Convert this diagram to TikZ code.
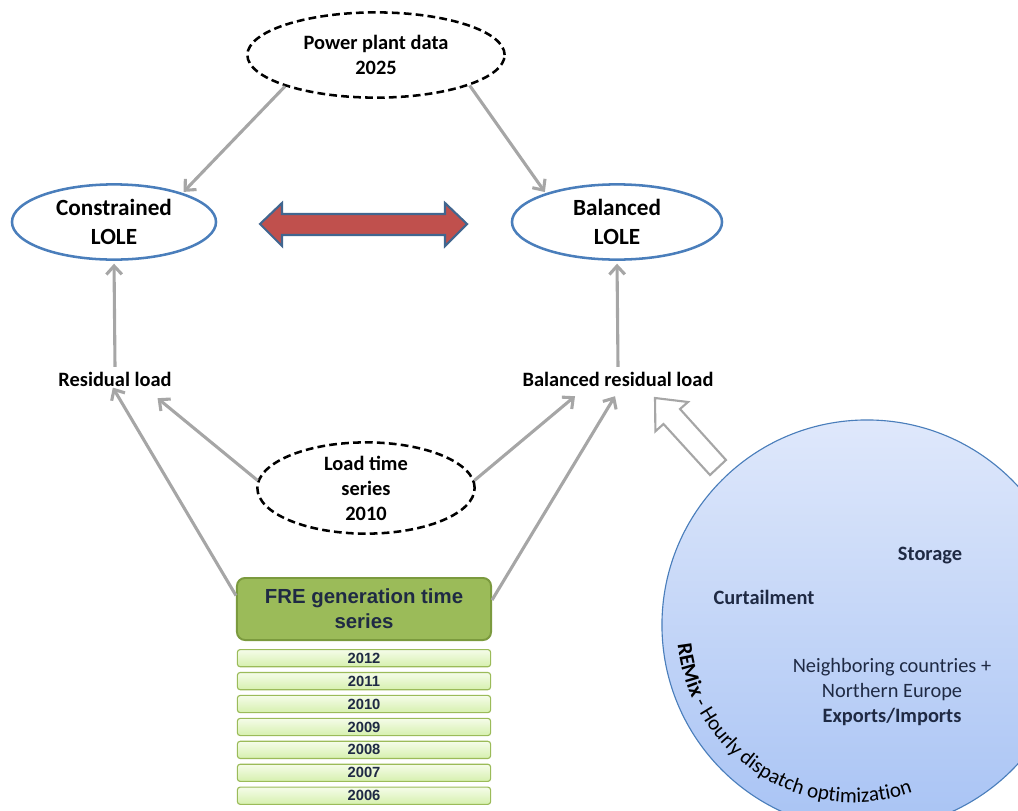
\documentclass[tikz,border=0pt]{standalone}
\usepackage{fontspec}
\setmainfont{Carlito}
\newfontfamily\arialfont{Liberation Sans}
\usetikzlibrary{arrows.meta,positioning,shapes.geometric,decorations.text,calc}
\definecolor{loleblue}{HTML}{4A7EBB}
\definecolor{feedgray}{HTML}{A6A6A6}
\definecolor{fregreen}{HTML}{9BBB59}
\definecolor{freborder}{HTML}{7B9A3E}
\definecolor{navytext}{HTML}{1F2A44}
\definecolor{cmpred}{HTML}{C0504D}
\definecolor{cmpblue}{HTML}{41668F}
\definecolor{remixtop}{HTML}{DFE8FB}
\definecolor{remixbot}{HTML}{A8C3F4}
\definecolor{bartop}{HTML}{F5FCE9}
\definecolor{barbot}{HTML}{D6F0AE}

\newcommand\remixfont{\fontsize{14.5}{17.8}\selectfont}
\newcommand\arcfont{\fontsize{15}{18}\selectfont}

\begin{document}
\begin{tikzpicture}[x=0.025cm, y=-0.025cm,
    every node/.style={align=center, font=\bfseries\fontsize{14.5}{17.8}\selectfont},
    datanode/.style={ellipse, draw, fill=white, dash pattern=on 5.5pt off 3pt, line width=1.8pt, inner sep=0pt},
    lolenode/.style={ellipse, draw=loleblue, line width=1.8pt, inner sep=0pt, font=\bfseries\fontsize{16.5}{20.6}\selectfont},
    feed/.style={draw=feedgray, line width=2.2pt, -{Straight Barb[length=6pt,width=11pt]}},
    frebox/.style={draw=freborder, line width=1.4pt, fill=fregreen, rounded corners=0.2cm, minimum width=6.35cm, minimum height=1.55cm, text=navytext, font=\arialfont\bfseries\fontsize{14.5}{17.8}\selectfont},
    yearbar/.style={draw=fregreen, line width=0.8pt, rounded corners=2pt, top color=bartop, bottom color=barbot, minimum width=6.33cm, minimum height=0.43cm, inner sep=0pt, text=navytext, font=\arialfont\bfseries\fontsize{10.5}{12}\selectfont}
  ]
    \useasboundingbox (0,0) rectangle (1018,810);
    \clip (0,0) rectangle (1018,810);

    % inputs and results
    \node[datanode, minimum width=6.43cm, minimum height=2.13cm] (plant) at (376,55) {Power plant data\\2025};
    \node[lolenode, minimum width=5.1cm, minimum height=1.88cm] (conlole) at (114,222) {Constrained\\LOLE};
    \node[lolenode, minimum width=5.25cm, minimum height=1.88cm] (ballole) at (617,222) {Balanced\\LOLE};
    \node (resid) at (115,379) {Residual load};
    \node (balresid) at (618,379) {Balanced residual load};
    \node[datanode, minimum width=5.43cm, minimum height=2.2cm] (load) at (366,488) {Load time\\series\\2010};

    % FRE time series
    \node[frebox] (fre) at (364,609) {FRE generation time\\series};
    \node[yearbar, below=0.2cm of fre] (y2012) {2012};
    \node[yearbar, below=0.115cm of y2012] (y2011) {2011};
    \node[yearbar, below=0.115cm of y2011] (y2010) {2010};
    \node[yearbar, below=0.115cm of y2010] (y2009) {2009};
    \node[yearbar, below=0.115cm of y2009] (y2008) {2008};
    \node[yearbar, below=0.115cm of y2008] (y2007) {2007};
    \node[yearbar, below=0.115cm of y2007] (y2006) {2006};

    % REMix model
    \node[circle, draw=loleblue, line width=0.8pt, top color=remixtop, bottom color=remixbot, minimum size=10.25cm, inner sep=0pt] (remix) at (867,625) {};
    \node[text=navytext] (storage) at (930,556) {Storage};
    \node[text=navytext] (curtail) at (764,597) {Curtailment};
    \node[text=navytext, font=\remixfont] (exports) at (892,692) {Neighboring countries +\\Northern Europe\\\textbf{Exports/Imports}};
    \coordinate (arccentre) at (854,625);
    \path[decorate, decoration={text along path, text align=left,
        text={|\arcfont\bfseries|REMix|\arcfont| - Hourly dispatch optimization}}]
      (arccentre) ++(173.6:177.5) arc[start angle=173.6, end angle=30, radius=177.5];

    % comparison arrow
    \draw[fill=cmpred, draw=cmpblue, line width=1.5pt] (260,224) -- (282,203) -- (282,214) -- (445,214) -- (445,203) -- (467,224) -- (445,246) -- (445,235) -- (282,235) -- (282,246) -- cycle;
    % REMix feeds balanced residual load
    \draw[draw=feedgray, fill=white, line width=1.5pt] (655,398) -- (688,402) -- (680,409) -- (726,460) -- (710,475) -- (663.5,424) -- (655.4,431.3) -- cycle;

    \draw[feed, shorten >=1pt] (plant.199) -- (conlole.23);
    \draw[feed, shorten >=1pt] (plant.342) -- (ballole.158);
    \draw[feed, shorten >=2pt] (resid.north) -- (conlole.south);
    \draw[feed, shorten >=2pt] (balresid.north) -- (ballole.south);
    \draw[feed, shorten >=-3pt] (fre.174) -- (resid.south);
    \draw[feed] (load.176) -- ($(resid.south east)+(-19,7)$);
    \draw[feed] (load.4) -- ($(balresid.south)+(-43,5)$);
    \draw[feed] (fre.4) -- ($(balresid.south)+(-3,5)$);
\end{tikzpicture}
\end{document}
